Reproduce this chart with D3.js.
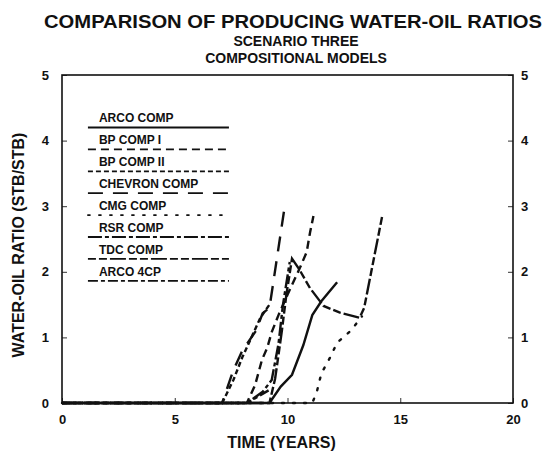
<!DOCTYPE html>
<html>
<head>
<meta charset="utf-8">
<script src="https://cdn.jsdelivr.net/npm/d3@7"></script>
<style>
  body { margin: 0; background: #fff; }
  text { font-family: "Liberation Sans", Arial, sans-serif; font-weight: bold; fill: #111; }
</style>
</head>
<body>
<div id="chart"></div>
<script>
// chart size
var svgWidth = 545;
var svgHeight = 455;

var margin = { top: 75, right: 32, bottom: 52, left: 62 };
var width = svgWidth - margin.left - margin.right;
var height = svgHeight - margin.top - margin.bottom;

// data (time in years, water-oil ratio)
var models = ["ARCO COMP", "BP COMP I", "BP COMP II", "CHEVRON COMP", "CMG COMP", "RSR COMP", "TDC COMP", "ARCO 4CP"];
var dashes = ["none", "8,5", "5,3", "15,10", "2,9", "14,3,4,3", "8,3,8,3,16,3", "10,3,4,3"];

var arcoComp    = [[0,0],[9.2,0],[9.7,0.25],[10.2,0.43],[10.7,0.88],[11.1,1.34],[11.5,1.55],[12.2,1.84]];
var bpComp1     = [[0,0],[8.2,0],[8.56,0.27],[8.87,0.66],[9.1,0.84],[9.3,1.08],[9.6,1.34],[10.0,1.65],[10.55,2.06],[10.85,2.3],[11.0,2.6],[11.15,2.85]];
var bpComp2     = [[0,0],[7.1,0],[7.6,0.35],[8.0,0.7],[8.4,1.0],[8.8,1.3],[9.2,1.5]];
var chevronComp = [[0,0],[7.1,0],[7.6,0.5],[8.0,0.8],[8.6,1.1],[8.9,1.37],[9.2,1.45],[9.9,3.05]];
var cmgComp     = [[0,0],[11.1,0],[11.3,0.17],[11.5,0.45],[11.9,0.7],[12.2,0.92],[12.8,1.1],[13.3,1.32]];
var rsrComp     = [[0,0],[8.2,0],[8.9,0.17],[9.3,0.35],[9.6,0.9],[9.8,1.5],[10.1,2.15]];
var tdcComp     = [[0,0],[9.2,0],[9.45,0.37],[9.6,0.73],[9.75,1.1],[9.95,1.65],[10.2,2.2],[10.5,2.05],[11.0,1.75],[11.6,1.48],[12.3,1.38],[13.2,1.3],[13.4,1.45],[13.8,2.15],[14.2,2.85]];
var arco4cp     = [[0,0],[8.2,0],[8.7,0.1],[9.2,0.2]];

var series = [arcoComp, bpComp1, bpComp2, chevronComp, cmgComp, rsrComp, tdcComp, arco4cp];

var xTicks = [0, 5, 10, 15, 20];
var yTicks = [0, 1, 2, 3, 4, 5];

var svg = d3.select("#chart")
  .append("svg")
  .attr("width", svgWidth)
  .attr("height", svgHeight);

var chartGroup = svg.append("g")
  .attr("transform", `translate(${margin.left}, ${margin.top})`);

var xScale = d3.scaleLinear().domain([0, 20]).range([0, width]);
var yScale = d3.scaleLinear().domain([0, 5]).range([height, 0]);

// axes with ticks pointing into the plot
var bottomAxis = d3.axisBottom(xScale).tickValues(xTicks).tickFormat(d3.format("d")).tickSizeInner(-5).tickSizeOuter(0).tickPadding(12);
var leftAxis = d3.axisLeft(yScale).tickValues(yTicks).tickFormat(d3.format("d")).tickSizeInner(-5).tickSizeOuter(0).tickPadding(13);
var rightAxis = d3.axisRight(yScale).tickValues(yTicks).tickFormat(d3.format("d")).tickSizeInner(-5).tickSizeOuter(0).tickPadding(8);

chartGroup.append("g").attr("transform", `translate(0, ${height})`).call(bottomAxis);
chartGroup.append("g").call(leftAxis);
chartGroup.append("g").attr("transform", `translate(${width}, 0)`).call(rightAxis);

chartGroup.selectAll(".domain").remove();
chartGroup.selectAll(".tick line").attr("stroke", "#333").attr("stroke-width", 1);
chartGroup.selectAll(".tick text").attr("font-size", 13).style("font-family", "Liberation Sans, Arial, sans-serif").style("font-weight", "bold").attr("fill", "#111");

// frame
chartGroup.append("rect")
  .attr("width", width)
  .attr("height", height)
  .attr("fill", "none")
  .attr("stroke", "#111")
  .attr("stroke-width", 1.6);

// model curves
var line = d3.line()
  .x(d => xScale(d[0]))
  .y(d => yScale(d[1]));

chartGroup.selectAll(".curve")
  .data(series)
  .enter()
  .append("path")
  .attr("class", "curve")
  .attr("d", line)
  .attr("fill", "none")
  .attr("stroke", "#111")
  .attr("stroke-width", 2.4)
  .attr("stroke-linecap", (d, i) => i == 4 ? "round" : "butt")
  .attr("stroke-dasharray", (d, i) => dashes[i]);

// legend
var legend = chartGroup.append("g")
  .attr("transform", `translate(${xScale(1.15)}, ${yScale(4.2)})`);

var legendRows = legend.selectAll(".row")
  .data(models)
  .enter()
  .append("g")
  .attr("transform", (d, i) => `translate(0, ${i * 21.9})`);

legendRows.append("text")
  .attr("x", 11)
  .attr("y", -5)
  .attr("font-size", 12)
  .text(d => d);

legendRows.append("line")
  .attr("x1", 0)
  .attr("x2", 141)
  .attr("y1", 0)
  .attr("y2", 0)
  .attr("stroke", "#111")
  .attr("stroke-width", 1.8)
  .attr("stroke-linecap", (d, i) => i == 4 ? "round" : "butt")
  .attr("stroke-dasharray", (d, i) => dashes[i]);

// titles
svg.append("text")
  .attr("x", 293)
  .attr("y", 28)
  .attr("text-anchor", "middle")
  .attr("font-size", 19)
  .attr("textLength", 498)
  .attr("lengthAdjust", "spacingAndGlyphs")
  .text("COMPARISON OF PRODUCING WATER-OIL RATIOS");

svg.append("text")
  .attr("x", 296)
  .attr("y", 46)
  .attr("text-anchor", "middle")
  .attr("font-size", 14)
  .text("SCENARIO THREE");

svg.append("text")
  .attr("x", 296)
  .attr("y", 63)
  .attr("text-anchor", "middle")
  .attr("font-size", 14)
  .text("COMPOSITIONAL MODELS");

// axis labels
svg.append("text")
  .attr("transform", `translate(24, ${margin.top + height / 2 + 6}) rotate(-90)`)
  .attr("text-anchor", "middle")
  .attr("font-size", 16)
  .text("WATER-OIL RATIO (STB/STB)");

svg.append("text")
  .attr("x", margin.left + width / 2 - 6)
  .attr("y", 448)
  .attr("text-anchor", "middle")
  .attr("font-size", 16)
  .text("TIME (YEARS)");
</script>
</body>
</html>
